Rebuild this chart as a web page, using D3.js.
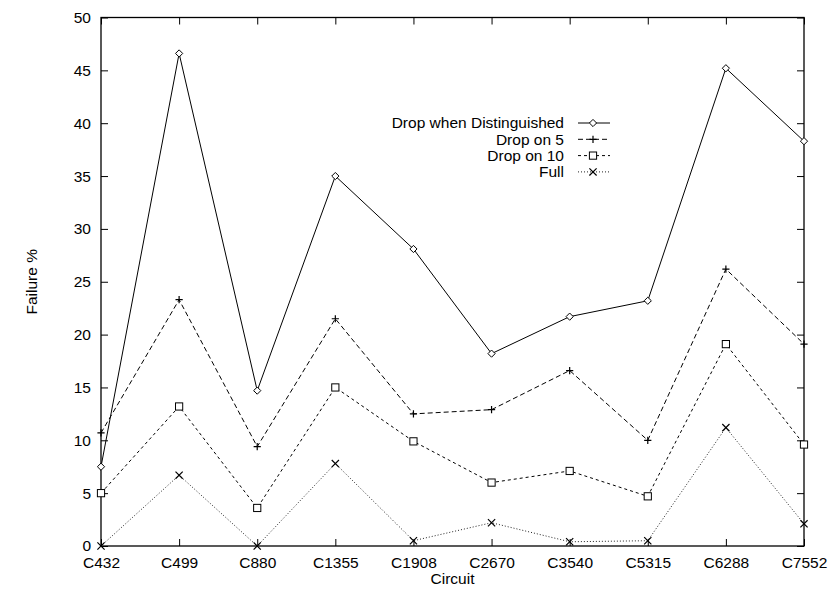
<!DOCTYPE html>
<html>
<head>
<meta charset="utf-8">
<script src="https://cdn.jsdelivr.net/npm/d3@7"></script>
<style>
  body { margin: 0; background: #fff; }
  text { font-family: "Liberation Sans", Arial, sans-serif; font-size: 15.5px; fill: #000; }
  .axis path { display: none; }
  .axis line { stroke: #000; }
</style>
</head>
<body>
<div id="chart"></div>
<script>
var circuits = ["C432", "C499", "C880", "C1355", "C1908", "C2670", "C3540", "C5315", "C6288", "C7552"];
var dropDist = [7.5, 46.6, 14.7, 35.0, 28.1, 18.2, 21.7, 23.2, 45.2, 38.3];
var dropOn5 = [10.7, 23.3, 9.4, 21.5, 12.5, 12.9, 16.6, 10.0, 26.2, 19.1];
var dropOn10 = [5.0, 13.2, 3.6, 15.0, 9.9, 6.0, 7.1, 4.7, 19.1, 9.6];
var full = [0, 6.7, 0, 7.8, 0.5, 2.2, 0.4, 0.5, 11.2, 2.1];
var yTicks = [0, 5, 10, 15, 20, 25, 30, 35, 40, 45, 50];
var seriesNames = ["Drop when Distinguished", "Drop on 5", "Drop on 10", "Full"];

var width = 829, height = 589;
var plotLeft = 101, plotRight = 804, plotTop = 17.5, plotBottom = 546;

var svg = d3.select("#chart").append("svg")
    .attr("width", width)
    .attr("height", height);

var x = d3.scalePoint().domain(circuits).range([plotLeft, plotRight]);
var y = d3.scaleLinear().domain([0, 50]).range([plotBottom, plotTop]);

// axes with inward ticks, mirrored on top/right like gnuplot
svg.append("g").attr("class", "axis")
    .attr("transform", "translate(0," + plotBottom + ")")
    .call(d3.axisBottom(x).tickSizeInner(-7).tickSizeOuter(0).tickPadding(11));
svg.append("g").attr("class", "axis")
    .attr("transform", "translate(0," + plotTop + ")")
    .call(d3.axisTop(x).tickSizeInner(-7).tickSizeOuter(0).tickFormat(""));
svg.append("g").attr("class", "axis")
    .attr("transform", "translate(" + plotLeft + ",0)")
    .call(d3.axisLeft(y).tickValues(yTicks).tickSizeInner(-7).tickSizeOuter(0).tickPadding(10));
svg.append("g").attr("class", "axis")
    .attr("transform", "translate(" + plotRight + ",0)")
    .call(d3.axisRight(y).tickValues(yTicks).tickSizeInner(-7).tickSizeOuter(0).tickFormat(""));
svg.selectAll(".axis text").style("font-size", "15.5px").style("font-family", "'Liberation Sans', Arial, sans-serif");

svg.append("rect")
    .attr("x", plotLeft).attr("y", plotTop)
    .attr("width", plotRight - plotLeft).attr("height", plotBottom - plotTop)
    .attr("fill", "none").attr("stroke", "#000").attr("stroke-width", 1.3);

svg.append("text")
    .attr("x", (plotLeft + plotRight) / 2).attr("y", 584)
    .attr("text-anchor", "middle")
    .text("Circuit");
svg.append("text")
    .attr("transform", "translate(37," + ((plotTop + plotBottom) / 2) + ") rotate(-90)")
    .attr("text-anchor", "middle")
    .text("Failure %");

var styles = [
  { dash: null, color: "#000", marker: "diamond" },
  { dash: "5,3", color: "#000", marker: "plus" },
  { dash: "3,3", color: "#000", marker: "square" },
  { dash: "1,2", color: "#222", marker: "cross" }
];
var allSeries = [dropDist, dropOn5, dropOn10, full];

function drawMarker(g, type, cx, cy) {
  var s = 3.6;
  if (type == "diamond") {
    g.append("path")
      .attr("d", "M" + cx + "," + (cy - s) + "L" + (cx + s) + "," + cy + "L" + cx + "," + (cy + s) + "L" + (cx - s) + "," + cy + "Z")
      .attr("fill", "#fff").attr("stroke", "#000");
  } else if (type == "plus") {
    g.append("path")
      .attr("d", "M" + (cx - s) + "," + cy + "H" + (cx + s) + "M" + cx + "," + (cy - s) + "V" + (cy + s))
      .attr("stroke", "#000").attr("stroke-width", 1.2);
  } else if (type == "square") {
    g.append("rect")
      .attr("x", cx - s).attr("y", cy - s).attr("width", 2 * s).attr("height", 2 * s)
      .attr("fill", "#fff").attr("stroke", "#000");
  } else {
    g.append("path")
      .attr("d", "M" + (cx - s) + "," + (cy - s) + "L" + (cx + s) + "," + (cy + s) + "M" + (cx + s) + "," + (cy - s) + "L" + (cx - s) + "," + (cy + s))
      .attr("stroke", "#000").attr("stroke-width", 1.2);
  }
}

var line = d3.line()
    .x(function(d, i) { return x(circuits[i]); })
    .y(function(d) { return y(d); });

allSeries.forEach(function(vals, k) {
  var st = styles[k];
  var g = svg.append("g");
  g.append("path")
    .attr("d", line(vals))
    .attr("fill", "none")
    .attr("stroke", st.color)
    .attr("stroke-width", 1)
    .attr("stroke-dasharray", st.dash);
  vals.forEach(function(v, i) {
    drawMarker(g, st.marker, x(circuits[i]), y(v));
  });
});

// legend
var legY = [123, 139.3, 155.6, 171.9];
seriesNames.forEach(function(name, k) {
  var st = styles[k];
  var g = svg.append("g");
  g.append("text")
    .attr("x", 564).attr("y", legY[k])
    .attr("dy", "0.35em")
    .attr("text-anchor", "end")
    .text(name);
  g.append("line")
    .attr("x1", 578).attr("x2", 610)
    .attr("y1", legY[k]).attr("y2", legY[k])
    .attr("stroke", st.color)
    .attr("stroke-dasharray", st.dash);
  drawMarker(g, st.marker, 593, legY[k]);
});
</script>
</body>
</html>
